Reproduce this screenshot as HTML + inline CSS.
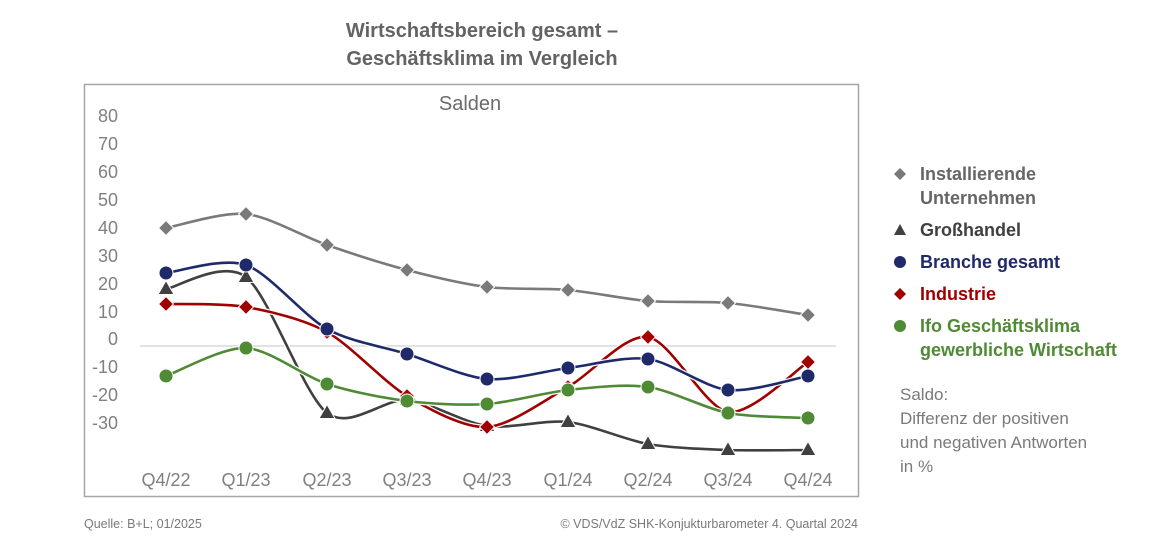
<!DOCTYPE html>
<html><head><meta charset="utf-8"><style>
body{margin:0;background:#fff;width:1170px;height:552px;overflow:hidden;font-family:"Liberation Sans",sans-serif}
</style></head><body>
<svg id="s" width="1170" height="552" xmlns="http://www.w3.org/2000/svg" font-family="Liberation Sans, sans-serif">
<text x="482" y="37" text-anchor="middle" font-size="20" font-weight="bold" fill="#636363" font-family="Liberation Sans Narrow, Liberation Sans, sans-serif">Wirtschaftsbereich gesamt –</text>
<text x="482" y="65" text-anchor="middle" font-size="20" font-weight="bold" fill="#636363" font-family="Liberation Sans Narrow, Liberation Sans, sans-serif">Geschäftsklima im Vergleich</text>
<rect x="84.5" y="84.5" width="774" height="412" fill="none" stroke="#a6a6a6" stroke-width="1.5"/>
<text x="470" y="110" text-anchor="middle" font-size="20" fill="#6b6b6b">Salden</text>
<g font-size="18" fill="#808080" text-anchor="end">
<text x="118" y="122">80</text><text x="118" y="150">70</text><text x="118" y="178">60</text><text x="118" y="206">50</text><text x="118" y="234">40</text><text x="118" y="262">30</text><text x="118" y="290">20</text><text x="118" y="318">10</text><text x="118" y="345">0</text><text x="118" y="373">-10</text><text x="118" y="401">-20</text><text x="118" y="429">-30</text>
</g>
<line x1="140" y1="346" x2="836" y2="346" stroke="#d9d9d9" stroke-width="1.5"/>
<g font-size="18" fill="#808080" text-anchor="middle">
<text x="166" y="486">Q4/22</text><text x="246" y="486">Q1/23</text><text x="327" y="486">Q2/23</text><text x="407" y="486">Q3/23</text><text x="487" y="486">Q4/23</text><text x="568" y="486">Q1/24</text><text x="648" y="486">Q2/24</text><text x="728" y="486">Q3/24</text><text x="808" y="486">Q4/24</text>
</g>
<g id="series"></g>
<g font-size="18" font-weight="bold">
<path d="M900 168l6 6-6 6-6-6z" fill="#7a7a7a"/>
<text x="920" y="180" fill="#666">Installierende</text>
<text x="920" y="204" fill="#666">Unternehmen</text>
<path d="M900 224l6 11h-12z" fill="#404040"/>
<text x="920" y="236" fill="#404040">Großhandel</text>
<circle cx="900" cy="262" r="6" fill="#1f2a6b"/>
<text x="920" y="268" fill="#1f2a6b">Branche gesamt</text>
<path d="M900 288l6 6-6 6-6-6z" fill="#a00000"/>
<text x="920" y="300" fill="#a00000">Industrie</text>
<circle cx="900" cy="326" r="6" fill="#4f8a35"/>
<text x="920" y="332" fill="#4f8a35">Ifo Geschäftsklima</text>
<text x="920" y="356" fill="#4f8a35">gewerbliche Wirtschaft</text>
</g>
<g font-size="17" fill="#7a7a7a">
<text x="900" y="400">Saldo:</text>
<text x="900" y="424">Differenz der positiven</text>
<text x="900" y="448">und negativen Antworten</text>
<text x="900" y="472">in %</text>
</g>
<text x="84" y="528" font-size="12.5" fill="#7a7a7a">Quelle: B+L; 01/2025</text>
<text x="858" y="528" font-size="12.5" fill="#7a7a7a" text-anchor="end">© VDS/VdZ SHK-Konjukturbarometer 4. Quartal 2024</text>
</svg>
<script>
var X=[166,246,327,407,487,568,648,728,808];
var S=[
{c:"#7a7a7a",m:"d",y:[228,214,245,270,287,290,301,303,315]},
{c:"#404040",m:"t",y:[289,277,413,400,426,422,444,450,450]},
{c:"#a00000",m:"d",y:[304,307,332,396,427,387,337,412,362]},
{c:"#4f8a35",m:"c",y:[376,348,384,401,404,390,387,413,418]},
{c:"#1f2a6b",m:"c",y:[273,265,329,354,379,368,359,390,376]}
];
var g=document.getElementById("series"),h="";
S.forEach(function(s){
 var y=s.y,d="M"+X[0]+" "+y[0],k=7;
 for(var i=0;i<8;i++){
  var x0=X[Math.max(i-1,0)],y0=y[Math.max(i-1,0)],x3=X[Math.min(i+2,8)],y3=y[Math.min(i+2,8)];
  var c1x=X[i]+(X[i+1]-x0)/k,c1y=y[i]+(y[i+1]-y0)/k,c2x=X[i+1]-(x3-X[i])/k,c2y=y[i+1]-(y3-y[i])/k;
  d+=" C"+c1x+" "+c1y+" "+c2x+" "+c2y+" "+X[i+1]+" "+y[i+1];
 }
 h+='<path d="'+d+'" fill="none" stroke="#fff" stroke-width="5"/>';
 h+='<path d="'+d+'" fill="none" stroke="'+s.c+'" stroke-width="2.6"/>';
 for(var i=0;i<9;i++){
  var x=X[i],yy=y[i];
  if(s.m=="d")h+='<path d="M'+x+' '+(yy-7.5)+'l7.5 7.5-7.5 7.5-7.5-7.5z" fill="'+s.c+'" stroke="#fff" stroke-width="1"/>';
  else if(s.m=="t")h+='<path d="M'+x+' '+(yy-8.5)+'l8 14h-16z" fill="'+s.c+'" stroke="#fff" stroke-width="1"/>';
  else h+='<circle cx="'+x+'" cy="'+yy+'" r="7" fill="'+s.c+'" stroke="#fff" stroke-width="1"/>';
 }
});
g.innerHTML=h;
</script>
</body></html>
